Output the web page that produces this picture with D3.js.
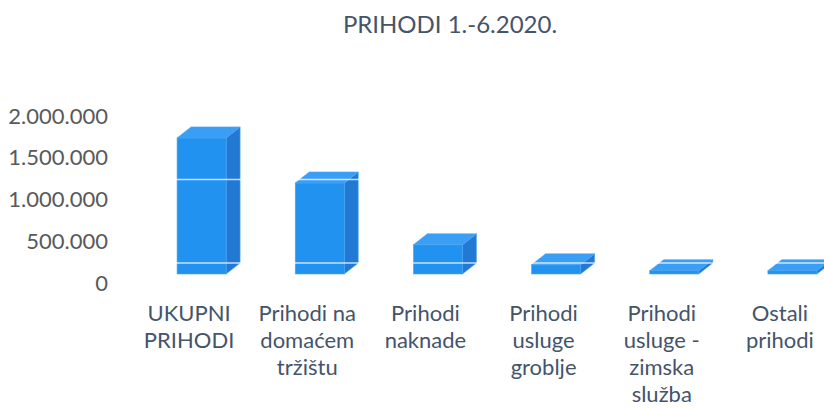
<!DOCTYPE html>
<html>
<head>
<meta charset="utf-8">
<script src="https://cdn.jsdelivr.net/npm/d3@7"></script>
<style>
  html, body { margin: 0; padding: 0; background: #ffffff; }
  svg { display: block; }
</style>
</head>
<body>
<svg id="chart" width="824" height="409"></svg>
<script>
// ---- data ----
const title = "PRIHODI 1.-6.2020.";
const categories = [
  "UKUPNI PRIHODI",
  "Prihodi na domaćem tržištu",
  "Prihodi naknade",
  "Prihodi usluge groblje",
  "Prihodi usluge - zimska služba",
  "Ostali prihodi"
];
const categoryLines = [
  ["UKUPNI", "PRIHODI"],
  ["Prihodi na", "domaćem", "tržištu"],
  ["Prihodi", "naknade"],
  ["Prihodi", "usluge", "groblje"],
  ["Prihodi", "usluge -", "zimska", "služba"],
  ["Ostali", "prihodi"]
];
const values = [1630000, 1090000, 350000, 110000, 40000, 40000];
const yTicks = [0, 500000, 1000000, 1500000, 2000000];
const wallLines = [0, 1000000];

// ---- layout ----
const W = 824, H = 409;
const depthX = 14, depthY = -11;
const frontShift = 12.5;
const axisOffset = 9;
const FONT = "Lato, 'Open Sans', sans-serif";

const svg = d3.select("#chart");
const fmt = d3.formatLocale({ decimal: ",", thousands: ".", grouping: [3], currency: ["", ""] }).format(",");

const x = d3.scaleBand().domain(categories).range([130, 839])
  .paddingInner(0.585).paddingOuter(0.2925);
const y = d3.scaleLinear().domain([0, 2000000]).range([274, 107]);

// title
svg.append("text")
  .attr("x", 450).attr("y", 33)
  .attr("text-anchor", "middle")
  .attr("font-family", FONT)
  .attr("font-size", 24)
  .attr("fill", "#44546a")
  .text(title);

// y axis
const yAxis = svg.append("g")
  .attr("transform", `translate(108,${axisOffset})`)
  .call(d3.axisLeft(y).tickValues(yTicks).tickFormat(fmt).tickSize(0).tickPadding(0));
yAxis.select(".domain").remove();
yAxis.selectAll("text")
  .attr("font-family", FONT)
  .attr("font-size", 22)
  .attr("fill", "#595959");

// bars (3D)
const bars = svg.append("g");
const colFront = "#2192f0", colTop = "#3a9ef4", colSide = "#2279d4";
values.forEach((v, i) => {
  const c = categories[i];
  const x0 = x(c) + frontShift;
  const w = x.bandwidth();
  const yT = y(v), yB = y(0);
  const g = bars.append("g");
  g.append("polygon")
    .attr("points", [[x0 + w, yT], [x0 + w + depthX, yT + depthY], [x0 + w + depthX, yB + depthY], [x0 + w, yB]].join(" "))
    .attr("fill", colSide).attr("stroke", "#4aa6f2").attr("stroke-width", 0.6);
  g.append("rect")
    .attr("x", x0).attr("y", yT).attr("width", w).attr("height", yB - yT)
    .attr("fill", colFront).attr("stroke", "#4aa6f2").attr("stroke-width", 0.6);
  g.append("polygon")
    .attr("points", [[x0, yT], [x0 + depthX, yT + depthY], [x0 + w + depthX, yT + depthY], [x0 + w, yT]].join(" "))
    .attr("fill", colTop).attr("stroke", "#4aa6f2").attr("stroke-width", 0.6);
});

// light gridlines of the back wall, showing across the bars
svg.append("g").selectAll("line").data(wallLines).join("line")
  .attr("x1", 150).attr("x2", W)
  .attr("y1", d => y(d) + depthY).attr("y2", d => y(d) + depthY)
  .attr("stroke", "#ffffff").attr("stroke-opacity", 0.75).attr("stroke-width", 1.4);

// category labels
const labels = svg.append("g");
categories.forEach((c, i) => {
  const cx = x(c) + x.bandwidth() / 2;
  const t = labels.append("text")
    .attr("x", cx)
    .attr("y", 321)
    .attr("text-anchor", "middle")
    .attr("font-family", FONT)
    .attr("font-size", 22)
    .attr("fill", "#44546a");
  categoryLines[i].forEach((ln, j) => {
    t.append("tspan").attr("x", cx).attr("dy", j === 0 ? 0 : 27).text(ln);
  });
});
</script>
</body>
</html>
